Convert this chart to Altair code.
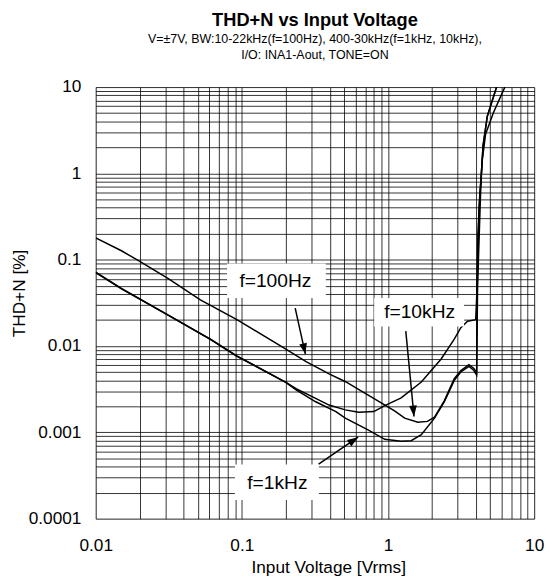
import math
import json
import altair as alt
import pandas as pd

W, H = 445, 438

# ---- curve data ----
v_100 = [0.01, 0.015, 0.0195, 0.031, 0.052, 0.0925, 0.2, 0.275, 0.395, 0.512, 0.667, 0.911,
         1.115, 1.30, 1.60, 1.86, 2.08, 2.43, 2.84, 3.15, 3.58, 3.87, 4.04, 4.08, 4.2, 4.33,
         4.47, 4.78, 5.53]
thd_100 = [0.179, 0.127, 0.098, 0.061, 0.0342, 0.0202, 0.0092, 0.0066, 0.00476, 0.00386,
           0.00297, 0.00217, 0.00176, 0.00146, 0.00131, 0.00134, 0.00150, 0.00233, 0.0042,
           0.0052, 0.0061, 0.0055, 0.0049, 0.05, 0.4, 0.87, 2.1, 4.6, 10]

v_1k = [0.01, 0.015, 0.031, 0.0612, 0.0925, 0.2, 0.235, 0.32, 0.44, 0.51, 0.73, 0.95, 1.23,
        1.44, 1.69, 2.08, 2.43, 2.84, 3.15, 3.58, 3.87, 4.04, 4.1, 4.3, 4.40, 4.65, 5.26, 6.3]
thd_1k = [0.072, 0.0466, 0.0231, 0.01196, 0.0077, 0.0038, 0.0031, 0.00226, 0.00174, 0.00146,
          0.00107, 0.00083, 0.00079, 0.0008, 0.00094, 0.00146, 0.00226, 0.0040, 0.0050,
          0.0058, 0.0052, 0.0046, 0.05, 0.6, 1.36, 2.85, 5.05, 10]

v_10k = [0.01, 0.015, 0.031, 0.0612, 0.0925, 0.2, 0.235, 0.305, 0.395, 0.51, 0.63, 0.80,
         0.95, 1.23, 1.69, 2.31, 2.84, 3.15, 3.50, 3.98, 4.05, 4.12, 4.25, 4.33, 4.47, 4.78, 5.53]
thd_10k = [0.071, 0.046, 0.023, 0.0119, 0.0076, 0.0038, 0.0032, 0.00258, 0.00207, 0.00182,
           0.00171, 0.00174, 0.00204, 0.00251, 0.00383, 0.00707, 0.0120, 0.0163, 0.0194,
           0.0202, 0.04, 0.2, 0.6, 0.87, 2.1, 4.6, 10]

series_names = ["f=100Hz", "f=1kHz", "f=10kHz"]

# ---- annotation data ----
ann_text = ["f=100Hz", "f=1kHz", "f=10kHz"]
ann_v = [0.1697, 0.1750, 1.645]
ann_thd = [0.0482, 0.00022, 0.02133]
box_v1 = [0.0792, 0.0897, 0.804]
box_v2 = [0.3752, 0.3366, 3.313]
box_t1 = [0.0905, 0.000425, 0.0361]
box_t2 = [0.0361, 0.000165, 0.01683]
arr_v_tail = [0.2317, 0.335, 1.323]
arr_t_tail = [0.02751, 0.000428, 0.01487]
arr_v_tip = [0.272, 0.624, 1.506]
arr_t_tip = [0.00806, 0.000879, 0.001527]

# ---- axis ticks ----
x_ticks = [float(f"{k}e{e}") for e in (-2, -1, 0) for k in range(1, 10)] + [10.0]
y_ticks = [float(f"{k}e{e}") for e in (-4, -3, -2, -1, 0) for k in range(1, 10)] + [10.0]
x_labels = ["0.01", "0.1", "1", "10"]
y_labels = ["0.0001", "0.001", "0.01", "0.1", "1", "10"]

title_text = "THD+N vs Input Voltage"
subtitle_lines = ["V=\u00b17V, BW:10-22kHz(f=100Hz), 400-30kHz(f=1kHz, 10kHz),",
                  "I/O: INA1-Aout, TONE=ON"]
x_title = "Input Voltage [Vrms]"
y_title = "THD+N [%]"

# ---- build tables ----
rows = []
for name, vs, ts in zip(series_names, [v_100, v_1k, v_10k], [thd_100, thd_1k, thd_10k]):
    for i, (v, t) in enumerate(zip(vs, ts)):
        rows.append({"series": name, "V": v, "THD": t, "order": i})
curves = pd.DataFrame(rows)

# arrowhead orientation derived from the log-scale geometry
px_dec_x = W / 3.0
px_dec_y = H / 5.0
angles = []
for a, b, c, d in zip(arr_v_tail, arr_t_tail, arr_v_tip, arr_t_tip):
    dx = math.log10(c / a) * px_dec_x
    dy = -math.log10(d / b) * px_dec_y
    angles.append(math.degrees(math.atan2(dx, -dy)) % 360)

ann = pd.DataFrame({
    "label": ann_text, "V": ann_v, "THD": ann_thd,
    "bx1": box_v1, "bx2": box_v2, "by1": box_t1, "by2": box_t2,
    "tx": arr_v_tail, "ty": arr_t_tail, "hx": arr_v_tip, "hy": arr_t_tip,
    "ang": angles,
})

FONT = "Liberation Sans"
xscale = alt.Scale(type="log", domain=[0.01, 10], nice=False)
yscale = alt.Scale(type="log", domain=[0.0001, 10], nice=False)

x_expr = "indexof(" + json.dumps(x_labels) + ", datum.label) >= 0 ? datum.label : ''"
y_expr = "indexof(" + json.dumps(y_labels) + ", datum.label) >= 0 ? datum.label : ''"

x_axis = alt.Axis(values=x_ticks, format="~g", labelExpr=x_expr, labelOverlap=False,
                  labelFlush=False,
                  ticks=False, domain=False, grid=True, gridColor="#000000", gridWidth=0.8,
                  labelFont=FONT, labelFontSize=17.5, labelColor="black", labelPadding=18,
                  title=x_title, titleFont=FONT, titleFontSize=17.5, titleFontWeight="normal",
                  titleColor="black", titleX=236, titleY=55, titleBaseline="alphabetic")
y_axis = alt.Axis(values=y_ticks, format="~g", labelExpr=y_expr, labelOverlap=False,
                  labelFlush=False,
                  ticks=False, domain=False, grid=True, gridColor="#000000", gridWidth=0.8,
                  labelFont=FONT, labelFontSize=17.5, labelColor="black", labelPadding=15,
                  title=y_title, titleFont=FONT, titleFontSize=17.5, titleFontWeight="normal",
                  titleColor="black", titleX=-77, titleY=209, titleAngle=270,
                  titleBaseline="middle")

lines = alt.Chart(curves).mark_line(color="black", strokeWidth=1.5, clip=True).encode(
    x=alt.X("V:Q", scale=xscale, axis=x_axis),
    y=alt.Y("THD:Q", scale=yscale, axis=y_axis),
    detail="series:N",
    order="order:Q",
)

base = alt.Chart(ann)
boxes = base.mark_rect(color="white").encode(
    x=alt.X("bx1:Q", scale=xscale, axis=x_axis), x2="bx2:Q",
    y=alt.Y("by1:Q", scale=yscale, axis=y_axis), y2="by2:Q",
)
texts = base.mark_text(font=FONT, fontSize=19.5, color="black", baseline="alphabetic",
                       align="center").encode(
    x=alt.X("V:Q", scale=xscale, axis=x_axis),
    y=alt.Y("THD:Q", scale=yscale, axis=y_axis),
    text="label:N",
)
shafts = base.mark_rule(color="black", strokeWidth=1.5).encode(
    x=alt.X("tx:Q", scale=xscale, axis=x_axis), x2="hx:Q",
    y=alt.Y("ty:Q", scale=yscale, axis=y_axis), y2="hy:Q",
)
heads = base.mark_point(shape="M0,0L-0.36,1L0.36,1Z", filled=True, color="black",
                        opacity=1, size=480, strokeWidth=0).encode(
    x=alt.X("hx:Q", scale=xscale, axis=x_axis),
    y=alt.Y("hy:Q", scale=yscale, axis=y_axis),
    angle=alt.Angle("ang:Q", scale=None),
)

chart = alt.layer(lines, boxes, texts, shafts, heads).properties(
    width=W, height=H,
    title=alt.TitleParams(text=title_text, subtitle=subtitle_lines, anchor="middle",
                          frame="group", font=FONT, fontSize=18.5, fontWeight="bold",
                          color="black", subtitleFont=FONT, subtitleFontSize=12.6,
                          subtitleColor="black", subtitlePadding=4, subtitleLineHeight=16,
                          offset=17),
    padding={"left": 89, "top": 76, "right": 12, "bottom": 58},
    autosize=alt.AutoSizeParams(type="none"),
).configure_view(stroke="#808080", strokeWidth=2).configure(font=FONT)

chart.save("out.html", embed_options={"renderer": "svg", "actions": False})
